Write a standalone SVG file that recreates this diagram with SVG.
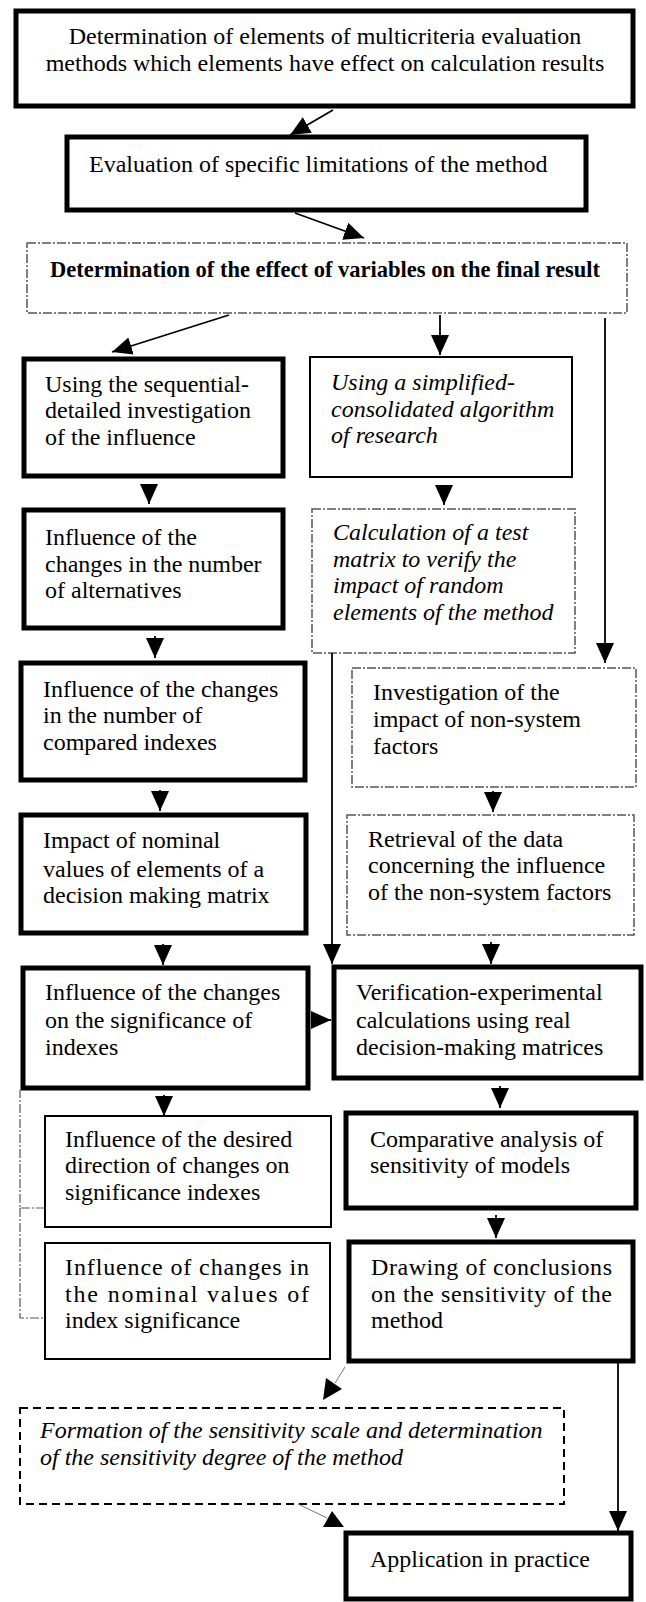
<svg xmlns="http://www.w3.org/2000/svg" width="646" height="1602" viewBox="0 0 646 1602">
<style>
text{font-family:"Liberation Serif","Times New Roman",serif;font-size:24px;fill:#000}
.it{font-style:italic}
.b{font-weight:bold;font-size:22.5px}
.thick{fill:#fff;stroke:#000;stroke-width:5}
.thin{fill:#fff;stroke:#000;stroke-width:2}
.dd{fill:#fff;stroke:#555;stroke-width:1.5;stroke-dasharray:9 2 2 2}
.dash{fill:#fff;stroke:#000;stroke-width:2;stroke-dasharray:8 5}
.con{stroke:#000;stroke-width:1.8;fill:none}
.grey{stroke:#777;stroke-width:1;fill:none}
.brk{stroke:#555;stroke-width:1.2;fill:none;stroke-dasharray:9 2 2 2}
.head{fill:#000}
</style>
<defs>
<marker id="ah" markerUnits="userSpaceOnUse" markerWidth="20" markerHeight="20" refX="20" refY="10" orient="auto" viewBox="0 0 20 20">
<path d="M0,1 L20,10 L0,19 z" fill="#000"/>
</marker>
</defs>

<g id="n1"><rect class="thick" x="16" y="11" width="617" height="95"/>
<text x="325" y="44" text-anchor="middle">Determination of elements of multicriteria evaluation</text>
<text x="325" y="71" text-anchor="middle">methods which elements have effect on calculation results</text></g>

<g id="n2"><rect class="thick" x="67" y="137" width="519" height="73"/>
<text x="89" y="172">Evaluation of specific limitations of the method</text></g>

<g id="n3"><rect class="dd" x="27" y="243" width="600" height="70"/>
<text class="b" x="50" y="277">Determination of the effect of variables on the final result</text></g>

<g id="n4"><rect class="thick" x="24" y="359" width="259" height="117"/>
<text x="45" y="392">Using the sequential-</text>
<text x="45" y="418">detailed investigation</text>
<text x="45" y="445">of the influence</text></g>

<g id="n5"><rect class="thin" x="310" y="357" width="262" height="120"/>
<text class="it" x="331" y="390">Using a simplified-</text>
<text class="it" x="331" y="417">consolidated algorithm</text>
<text class="it" x="331" y="443">of research</text></g>

<g id="n6"><rect class="thick" x="24" y="510" width="259" height="118"/>
<text x="45" y="545">Influence of the</text>
<text x="45" y="572">changes in the number</text>
<text x="45" y="598">of alternatives</text></g>

<g id="n7"><rect class="dd" x="312" y="509" width="263" height="144"/>
<text class="it" x="333" y="540">Calculation of a test</text>
<text class="it" x="333" y="567">matrix to verify the</text>
<text class="it" x="333" y="593">impact of random</text>
<text class="it" x="333" y="620">elements of the method</text></g>

<g id="n8"><rect class="thick" x="21" y="663" width="284" height="117"/>
<text x="43" y="697">Influence of the changes</text>
<text x="43" y="723">in the number of</text>
<text x="43" y="750">compared indexes</text></g>

<g id="n9"><rect class="dd" x="352" y="668" width="284" height="119"/>
<text x="373" y="700">Investigation of the</text>
<text x="373" y="727">impact of non-system</text>
<text x="373" y="754">factors</text></g>

<g id="n10"><rect class="thick" x="21" y="815" width="285" height="118"/>
<text x="43" y="848">Impact of nominal</text>
<text x="43" y="877">values of elements of a</text>
<text x="43" y="903">decision making matrix</text></g>

<g id="n11"><rect class="dd" x="347" y="815" width="287" height="120"/>
<text x="368" y="847">Retrieval of the data</text>
<text x="368" y="873">concerning the influence</text>
<text x="368" y="900">of the non-system factors</text></g>

<g id="n12"><rect class="thick" x="23" y="968" width="285" height="120"/>
<text x="45" y="1000">Influence of the changes</text>
<text x="45" y="1028">on the significance of</text>
<text x="45" y="1055">indexes</text></g>

<g id="n13"><rect class="thick" x="334" y="967" width="307" height="111"/>
<text x="356" y="1000">Verification-experimental</text>
<text x="356" y="1028">calculations using real</text>
<text x="356" y="1055">decision-making matrices</text></g>

<g id="n14"><rect class="thin" x="45" y="1116" width="286" height="111"/>
<text x="65" y="1147">Influence of the desired</text>
<text x="65" y="1173">direction of changes on</text>
<text x="65" y="1200">significance indexes</text></g>

<g id="n15"><rect class="thick" x="346" y="1113" width="290" height="95"/>
<text x="370" y="1147">Comparative analysis of</text>
<text x="370" y="1173">sensitivity of models</text></g>

<g id="n16"><rect class="thin" x="45" y="1243" width="285" height="116"/>
<text x="65" y="1275" textLength="244" lengthAdjust="spacing">Influence of changes in</text>
<text x="65" y="1302" textLength="244" lengthAdjust="spacing">the nominal values of</text>
<text x="65" y="1328">index significance</text></g>

<g id="n17"><rect class="thick" x="349" y="1242" width="284" height="119"/>
<text x="371" y="1275" textLength="241" lengthAdjust="spacing">Drawing of conclusions</text>
<text x="371" y="1302" textLength="241" lengthAdjust="spacing">on the sensitivity of the</text>
<text x="371" y="1328">method</text></g>

<g id="n18"><rect class="dash" x="20" y="1408" width="544" height="96"/>
<text class="it" x="40" y="1438">Formation of the sensitivity scale and determination</text>
<text class="it" x="40" y="1465">of the sensitivity degree of the method</text></g>

<g id="n19"><rect class="thick" x="346" y="1533" width="285" height="66"/>
<text x="370" y="1567">Application in practice</text></g>

<g id="connectors">
<line class="con" x1="333" y1="110" x2="290" y2="135" marker-end="url(#ah)"/>
<line class="con" x1="295" y1="213" x2="364" y2="238" marker-end="url(#ah)"/>
<line class="con" x1="229" y1="315" x2="112" y2="352" marker-end="url(#ah)"/>
<line class="con" x1="440" y1="315" x2="440" y2="355" marker-end="url(#ah)"/>
<line class="con" x1="605" y1="318" x2="605" y2="663" marker-end="url(#ah)"/>
<line class="con" x1="149" y1="484" x2="149" y2="504" marker-end="url(#ah)"/>
<line class="con" x1="444" y1="485" x2="444" y2="505" marker-end="url(#ah)"/>
<line class="con" x1="155" y1="636" x2="155" y2="658" marker-end="url(#ah)"/>
<line class="con" x1="160" y1="790" x2="160" y2="811" marker-end="url(#ah)"/>
<line class="con" x1="493" y1="791" x2="493" y2="812" marker-end="url(#ah)"/>
<line class="con" x1="332" y1="653" x2="332" y2="964" marker-end="url(#ah)"/>
<line class="con" x1="163" y1="944" x2="163" y2="965" marker-end="url(#ah)"/>
<line class="con" x1="491" y1="942" x2="491" y2="964" marker-end="url(#ah)"/>
<line class="con" x1="312" y1="1020" x2="331" y2="1020" marker-end="url(#ah)"/>
<line class="con" x1="164" y1="1095" x2="164" y2="1116" marker-end="url(#ah)"/>
<line class="con" x1="500" y1="1086" x2="500" y2="1108" marker-end="url(#ah)"/>
<line class="con" x1="496" y1="1215" x2="496" y2="1238" marker-end="url(#ah)"/>
<polyline class="brk" points="45,1208 20,1208 20,1090"/>
<polyline class="brk" points="20,1208 20,1318 45,1318"/>
<line class="grey" x1="345" y1="1367" x2="335" y2="1383"/>
<polygon class="head" points="326,1378 342,1389 323,1400"/>
<line class="con" x1="618" y1="1362" x2="618" y2="1531" marker-end="url(#ah)"/>
<line class="grey" x1="298" y1="1504" x2="327" y2="1518"/>
<polygon class="head" points="323,1527 332,1511 344,1527"/>
</g>
</svg>
